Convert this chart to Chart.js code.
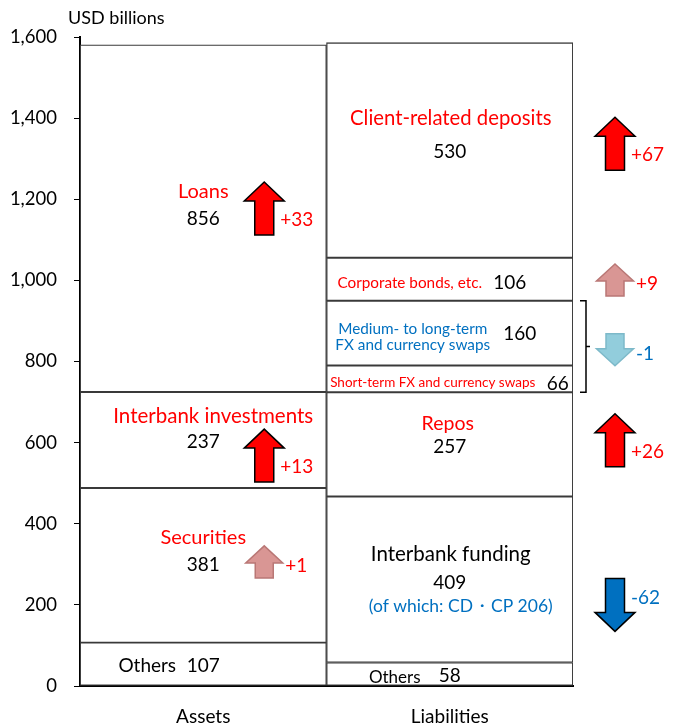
<!DOCTYPE html>
<html>
<head>
<meta charset="utf-8">
<script src="https://cdn.jsdelivr.net/npm/chart.js@4"></script>
<style>
  html, body { margin: 0; padding: 0; background: #fff; }
  #wrap { width: 680px; height: 726px; position: relative; }
</style>
</head>
<body>
<div id="wrap"><canvas id="bs"></canvas></div>
<script>
// Balance sheet, USD billions
const categories = ["Assets", "Liabilities"];
const yTicks = [0, 200, 400, 600, 800, 1000, 1200, 1400, 1600];

const assetItems = ["Others", "Securities", "Interbank investments", "Loans"];
const assetValues = [107, 381, 237, 856];

const liabilityItems = ["Others", "Interbank funding", "Repos",
  "Short-term FX and currency swaps", "Medium- to long-term FX and currency swaps",
  "Corporate bonds, etc.", "Client-related deposits"];
const liabilityValues = [58, 409, 257, 66, 160, 106, 530];

// changes shown by the arrows (the swaps pair share one arrow)
const assetChanges = [null, 1, 13, 33];
const liabilityChanges = [null, -62, 26, null, -1, 9, 67];
const cdCpAmount = 206;

const RED = "#FF0000";
const BLUE = "#0070C0";
const FONT = "Lato, 'Open Sans', sans-serif";

// text inside each segment: [text, colour, size, dx, dy]
const assetText = [
  [["Others", "#000", 19, -56, 2], ["{v}", "#000", 19, 0, 2]],
  [["Securities", RED, 20, 0, -28], ["{v}", "#000", 19, 0, 0]],
  [["Interbank investments", RED, 20.5, 10, -24], ["{v}", "#000", 19, 0, 2]],
  [["Loans", RED, 20, 0, -27], ["{v}", "#000", 19, 0, 1]]
];
const liabilityText = [
  [["Others", "#000", 17, -55, 3], ["{v}", "#000", 19, 0, 2]],
  [["Interbank funding", "#000", 20.5, 1, -25], ["{v}", "#000", 19, 0, 3],
   ["(of which: CD\u30FBCP " + cdCpAmount + ")", BLUE, 17.5, 11, 27]],
  [["Repos", RED, 19.5, -2, -21], ["{v}", "#000", 19, 0, 2]],
  [["Short-term FX and currency swaps", RED, 13.5, -17, 4], ["{v}", "#000", 19, 108, 5]],
  [["Medium- to long-term", BLUE, 15.3, -37, -4], ["FX and currency swaps", BLUE, 15.3, -37, 12],
   ["{v}", "#000", 19, 70, 1]],
  [["Corporate bonds, etc.", RED, 15.3, -40, 4], ["{v}", "#000", 19, 60, 4]],
  [["Client-related deposits", RED, 20.3, 1, -32], ["{v}", "#000", 19, 0, 2]]
];

// arrow annotations: bar index, segment index, value-axis anchor, style
const arrows = [
  { bar: 0, seg: 3, at: 1177, big: true, fill: RED, stroke: "#000" },
  { bar: 0, seg: 2, at: 568, big: true, fill: RED, stroke: "#000" },
  { bar: 0, seg: 1, at: 306, big: false, fill: "#D99694", stroke: "#B97775" },
  { bar: 1, seg: 6, at: 1337, big: true, fill: RED, stroke: "#000" },
  { bar: 1, seg: 5, at: 1001, big: false, fill: "#D99694", stroke: "#B97775" },
  { bar: 1, seg: 4, at: 829, big: false, fill: "#92CDDC", stroke: "#7DB9C9" },
  { bar: 1, seg: 2, at: 606, big: true, fill: RED, stroke: "#000" },
  { bar: 1, seg: 1, at: 200, big: true, fill: BLUE, stroke: "#000" }
];

// one dataset per segment so each stack can have its own pieces
const datasets = [];
assetValues.forEach((v, i) => {
  datasets.push({ label: assetItems[i], data: [v, null], stack: "s" });
});
liabilityValues.forEach((v, i) => {
  datasets.push({ label: liabilityItems[i], data: [null, v], stack: "s" });
});
datasets.forEach(d => {
  d.backgroundColor = "#fff";
  d.borderColor = "#3a3a3a";
  d.borderWidth = 1.3;
  d.borderSkipped = false;
  d.barPercentage = 1;
  d.categoryPercentage = 1;
});

function segBounds(values, i) {
  let lo = 0;
  for (let k = 0; k < i; k++) lo += values[k];
  return [lo, lo + values[i]];
}

function drawArrow(ctx, cx, cy, up, big, fill, stroke) {
  const h = big ? 53 : 32;
  const headH = big ? 19 : 17;
  const headW = big ? 40 : 37;
  const bodyW = big ? 19 : 18;
  const s = up ? 1 : -1;
  const tip = cy - s * h / 2;
  const base = tip + s * headH;
  const end = cy + s * h / 2;
  ctx.beginPath();
  ctx.moveTo(cx, tip);
  ctx.lineTo(cx + headW / 2, base);
  ctx.lineTo(cx + bodyW / 2, base);
  ctx.lineTo(cx + bodyW / 2, end);
  ctx.lineTo(cx - bodyW / 2, end);
  ctx.lineTo(cx - bodyW / 2, base);
  ctx.lineTo(cx - headW / 2, base);
  ctx.closePath();
  ctx.fillStyle = fill;
  ctx.fill();
  ctx.lineWidth = 1.5;
  ctx.strokeStyle = stroke;
  ctx.lineJoin = "miter";
  ctx.stroke();
  return (base + end) / 2;
}

const annotations = {
  id: "annotations",
  afterDatasetsDraw(chart) {
    const { ctx, scales: { x, y } } = chart;
    const half = (x.getPixelForValue(1) - x.getPixelForValue(0)) / 2;
    ctx.save();
    ctx.textBaseline = "middle";

    // segment labels
    [[assetValues, assetText], [liabilityValues, liabilityText]].forEach(([vals, texts], b) => {
      const cx = x.getPixelForValue(b);
      vals.forEach((v, i) => {
        const [lo, hi] = segBounds(vals, i);
        const cy = y.getPixelForValue((lo + hi) / 2);
        texts[i].forEach(([t, col, size, dx, dy]) => {
          ctx.font = size + "px " + FONT;
          ctx.fillStyle = col;
          ctx.textAlign = "center";
          ctx.fillText(t.replace("{v}", v), cx + dx, cy + dy);
        });
      });
    });

    // arrows with the change figures
    arrows.forEach(a => {
      const change = a.bar === 0 ? assetChanges[a.seg] : liabilityChanges[a.seg];
      const ax = a.bar === 0 ? x.getPixelForValue(0) + 61 : x.getPixelForValue(1) + half + 42;
      const ay = y.getPixelForValue(a.at);
      const up = change > 0;
      const ly = drawArrow(ctx, ax, ay, up, a.big, a.fill, a.stroke);
      ctx.font = "19px " + FONT;
      ctx.textAlign = "left";
      ctx.fillStyle = up ? RED : BLUE;
      const txt = (up ? "+" : "") + change;
      ctx.fillText(txt, ax + (a.big ? 16 : 21), a.big ? ly + 2 : ay + 4);
    });

    // bracket joining the two swap segments
    const [sLo] = segBounds(liabilityValues, 3);
    const [, sHi] = segBounds(liabilityValues, 4);
    const bx = x.getPixelForValue(1) + half + 7;
    const yTop = y.getPixelForValue(sHi);
    const yBot = y.getPixelForValue(sLo);
    ctx.beginPath();
    ctx.moveTo(bx, yTop);
    ctx.lineTo(bx + 6, yTop);
    ctx.lineTo(bx + 6, yBot);
    ctx.lineTo(bx, yBot);
    ctx.moveTo(bx + 6, (yTop + yBot) / 2);
    ctx.lineTo(bx + 10, (yTop + yBot) / 2);
    ctx.strokeStyle = "#000";
    ctx.lineWidth = 1.5;
    ctx.stroke();

    // unit caption above the value axis
    ctx.font = "18px " + FONT;
    ctx.fillStyle = "#000";
    ctx.textAlign = "left";
    ctx.fillText("USD billions", 68, 18);
    ctx.restore();
  }
};

new Chart(document.getElementById("bs"), {
  type: "bar",
  data: { labels: categories, datasets: datasets },
  plugins: [annotations],
  options: {
    responsive: true,
    maintainAspectRatio: false,
    animation: false,
    layout: { padding: { top: 37, right: 107, left: 0, bottom: 0 } },
    plugins: { legend: { display: false }, tooltip: { enabled: false } },
    scales: {
      x: {
        stacked: true,
        grid: { display: false, drawTicks: false },
        border: { display: true, color: "#000", width: 2 },
        ticks: { color: "#000", font: { family: FONT, size: 19 }, padding: 19 },
        afterFit(scale) { scale.height = 40; }
      },
      y: {
        stacked: true,
        min: 0,
        max: 1600,
        afterBuildTicks(scale) { scale.ticks = yTicks.map(v => ({ value: v })); },
        grid: { drawOnChartArea: false, drawTicks: true, tickLength: 6, color: "#000", tickColor: "#000" },
        border: { display: true, color: "#000", width: 2 },
        ticks: {
          color: "#000",
          font: { family: FONT, size: 18.5 },
          padding: 17,
          callback: v => v.toLocaleString("en-US")
        },
        afterFit(scale) { scale.width = 80; }
      }
    }
  }
});
</script>
</body>
</html>
